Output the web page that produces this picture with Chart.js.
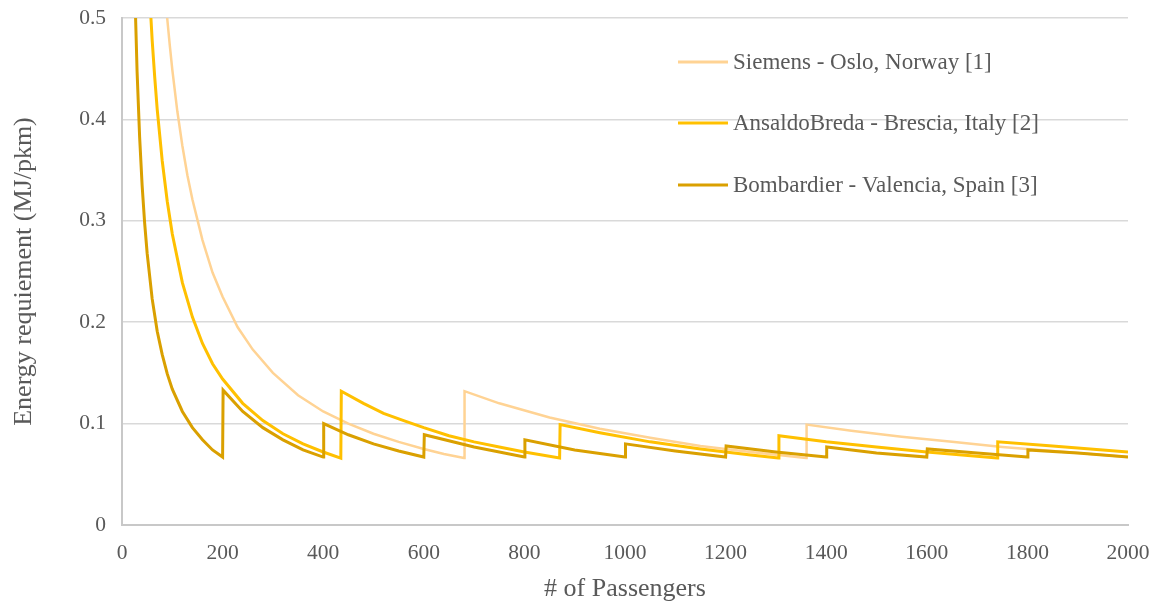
<!DOCTYPE html>
<html>
<head>
<meta charset="utf-8">
<script src="https://cdn.jsdelivr.net/npm/chart.js@4/dist/chart.umd.min.js"></script>
<style>
  html, body { margin: 0; padding: 0; background: #fff; }
  #wrap { width: 1156px; height: 605px; }
</style>
</head>
<body>
<div id="wrap"><canvas id="chart" width="1156" height="605"></canvas></div>
<script>
// Series labels
const seriesNames = [
    'Siemens - Oslo, Norway [1]',
    'AnsaldoBreda - Brescia, Italy [2]',
    'Bombardier - Valencia, Spain [3]'
];

// Siemens - Oslo
const siemensX = [80, 85, 90, 95, 100, 110, 120, 130, 140, 160, 180, 200, 230, 260, 300, 350, 400, 450, 500, 550, 600, 640, 680,
    681, 750, 850, 950, 1050, 1150, 1250, 1360,
    1361, 1450, 1550, 1650, 1750, 1850, 2000];
const siemensY = [0.561, 0.528, 0.499, 0.473, 0.449, 0.408, 0.374, 0.345, 0.321, 0.281, 0.249, 0.225, 0.195, 0.173, 0.150, 0.128, 0.112, 0.100, 0.090, 0.082, 0.075, 0.070, 0.066,
    0.132, 0.120, 0.106, 0.095, 0.086, 0.078, 0.072, 0.066,
    0.099, 0.093, 0.087, 0.082, 0.077, 0.073, 0.067];

// AnsaldoBreda - Brescia
const ansaldoX = [50, 55, 60, 65, 70, 80, 90, 100, 120, 140, 160, 180, 200, 240, 280, 320, 360, 400, 435,
    436, 480, 520, 560, 600, 650, 700, 750, 800, 870,
    871, 950, 1050, 1150, 1250, 1305,
    1306, 1400, 1500, 1600, 1740,
    1741, 1850, 2000];
const ansaldoY = [0.574, 0.522, 0.478, 0.442, 0.410, 0.359, 0.319, 0.287, 0.239, 0.205, 0.179, 0.159, 0.144, 0.120, 0.103, 0.090, 0.080, 0.072, 0.066,
    0.132, 0.120, 0.110, 0.103, 0.096, 0.088, 0.082, 0.077, 0.072, 0.066,
    0.099, 0.091, 0.082, 0.075, 0.069, 0.066,
    0.088, 0.082, 0.077, 0.072, 0.066,
    0.082, 0.078, 0.072];

// Bombardier - Valencia
const bombardierX = [20, 25, 30, 35, 40, 45, 50, 60, 70, 80, 90, 100, 120, 140, 160, 180, 200,
    201, 240, 280, 320, 360, 400,
    401, 450, 500, 550, 600,
    601, 700, 800,
    801, 900, 1000,
    1001, 1100, 1200,
    1201, 1300, 1400,
    1401, 1500, 1600,
    1601, 1700, 1800,
    1801, 1900, 2000];
const bombardierY = [0.670, 0.536, 0.447, 0.383, 0.335, 0.298, 0.268, 0.223, 0.191, 0.168, 0.149, 0.134, 0.112, 0.096, 0.084, 0.074, 0.067,
    0.133, 0.112, 0.096, 0.084, 0.074, 0.067,
    0.100, 0.089, 0.080, 0.073, 0.067,
    0.089, 0.077, 0.067,
    0.084, 0.074, 0.067,
    0.080, 0.073, 0.067,
    0.078, 0.072, 0.067,
    0.077, 0.071, 0.067,
    0.075, 0.071, 0.067,
    0.074, 0.071, 0.067];

const seriesColors = ['#ffd394', '#ffc000', '#daa000'];
const seriesWidths = [2.5, 3, 3];

const toPoints = (xs, ys) => xs.map((x, i) => ({ x: x, y: ys[i] }));
const allX = [siemensX, ansaldoX, bombardierX];
const allY = [siemensY, ansaldoY, bombardierY];

const FONT = "'Liberation Serif', 'DejaVu Serif', serif";
const TEXT = '#595959';

// legend drawn inside the plot area, top right
const insideLegend = {
    id: 'insideLegend',
    afterDraw(chart) {
        const ctx = chart.ctx;
        const rows = [62, 123, 185];
        ctx.save();
        ctx.font = '23px ' + FONT;
        ctx.textBaseline = 'middle';
        ctx.textAlign = 'left';
        seriesNames.forEach((name, i) => {
            ctx.strokeStyle = seriesColors[i];
            ctx.lineWidth = 3;
            ctx.beginPath();
            ctx.moveTo(678, rows[i]);
            ctx.lineTo(728, rows[i]);
            ctx.stroke();
            ctx.fillStyle = TEXT;
            ctx.fillText(name, 733, rows[i] + 1);
        });
        ctx.restore();
    }
};

const config = {
    type: 'line',
    data: {
        datasets: seriesNames.map((name, i) => ({
            label: name,
            data: toPoints(allX[i], allY[i]),
            borderColor: seriesColors[i],
            backgroundColor: seriesColors[i],
            borderWidth: seriesWidths[i],
            pointRadius: 0,
            tension: 0,
            fill: false,
            order: 2 - i
        }))
    },
    options: {
        responsive: false,
        animation: false,
        devicePixelRatio: 1,
        layout: { padding: { left: 0, right: 28, top: 18, bottom: 0 } },
        plugins: {
            legend: { display: false },
            tooltip: { enabled: false }
        },
        scales: {
            x: {
                type: 'linear',
                min: 0,
                max: 2000,
                afterFit: scale => {
                    scale.height = 80;
                    scale.paddingLeft = 0;
                    scale.paddingRight = 0;
                },
                ticks: {
                    stepSize: 200,
                    autoSkip: false,
                    maxRotation: 0,
                    padding: 15,
                    color: TEXT,
                    font: { family: FONT, size: 21.5 },
                    callback: v => String(v)
                },
                grid: { display: false, drawTicks: false },
                border: { display: true, color: '#c8c8c8', width: 2 },
                title: {
                    display: true,
                    text: '# of Passengers',
                    color: TEXT,
                    font: { family: FONT, size: 26 },
                    padding: { top: 0, bottom: 0 }
                }
            },
            y: {
                min: 0,
                max: 0.5,
                afterFit: scale => {
                    scale.width = 122;
                    scale.paddingTop = 0;
                    scale.paddingBottom = 0;
                },
                ticks: {
                    stepSize: 0.1,
                    padding: 16,
                    color: TEXT,
                    font: { family: FONT, size: 21.5 }
                },
                grid: { color: '#d9d9d9', lineWidth: 1.5, drawTicks: false },
                border: { display: true, color: '#c8c8c8', width: 2 },
                title: {
                    display: true,
                    text: 'Energy requiement (MJ/pkm)',
                    color: TEXT,
                    font: { family: FONT, size: 26 },
                    padding: { top: 9, bottom: 0 }
                }
            }
        }
    },
    plugins: [insideLegend]
};

const chart = new Chart(document.getElementById('chart').getContext('2d'), config);
</script>
</body>
</html>
